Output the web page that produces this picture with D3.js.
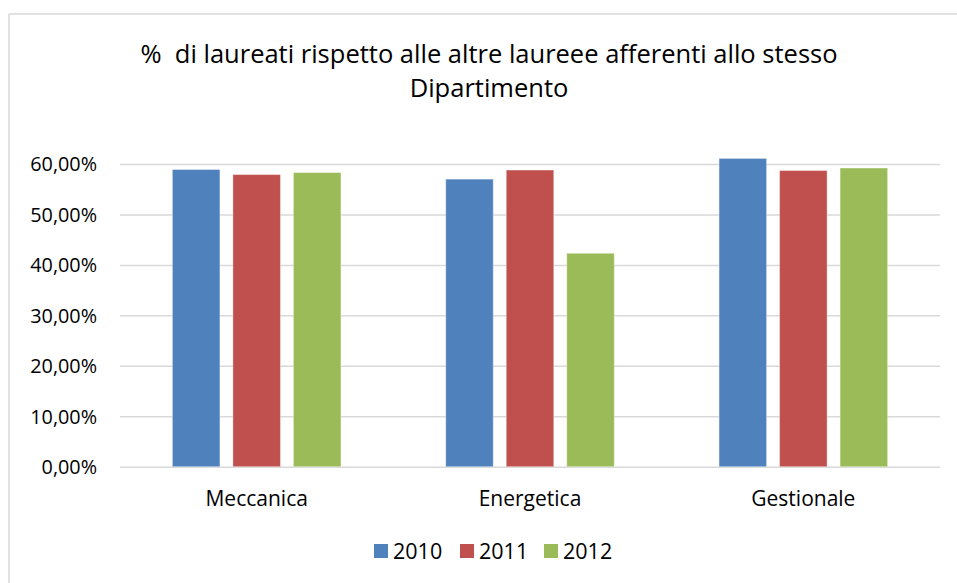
<!DOCTYPE html>
<html>
<head>
<meta charset="utf-8">
<script src="https://cdn.jsdelivr.net/npm/d3@7"></script>
<style>
  body { margin: 0; background: #fff; }
  svg text { font-family: "Open Sans", sans-serif; fill: #000; }
</style>
</head>
<body>
<div id="master"></div>
<script>
let categories = ["Meccanica", "Energetica", "Gestionale"]
let years = ["2010", "2011", "2012"]
let values2010 = [0.589, 0.570, 0.611]
let values2011 = [0.579, 0.588, 0.587]
let values2012 = [0.583, 0.423, 0.592]
let yTicks = [0, 0.1, 0.2, 0.3, 0.4, 0.5, 0.6]
let titleLines = ["%  di laureati rispetto alle altre laureee afferenti allo stesso", "Dipartimento"]
let colors = ["#4f81bd", "#c0504d", "#9bbb59"]

let series = [values2010, values2011, values2012]

let w = 957
let h = 583
let plot = { left: 120, right: 940, top: 164, bottom: 466.7 }

let svg = d3.select("#master").append("svg").attr("width", w).attr("height", h)

// chart frame: only top and left edges visible
svg.append("line").attr("x1", 9).attr("x2", w).attr("y1", 14).attr("y2", 14)
  .attr("stroke", "#d9d9d9").attr("stroke-width", 1.5)
svg.append("line").attr("x1", 9).attr("x2", 9).attr("y1", 14).attr("y2", h)
  .attr("stroke", "#d9d9d9").attr("stroke-width", 1.5)

// title
svg.append("g").selectAll("text")
  .data(titleLines)
  .enter()
  .append("text")
  .attr("x", 489)
  .attr("y", (d, i) => 63 + i * 34)
  .attr("text-anchor", "middle")
  .style("font-size", "25.5px")
  .style("white-space", "pre")
  .attr("xml:space", "preserve")
  .text(d => d)

// scales
let x = d3.scaleBand().domain(categories).range([plot.left, plot.right])
let xInner = d3.scaleBand().domain(years).range([0, x.bandwidth()]).paddingInner(0.215).paddingOuter(0.866)
let y = d3.scaleLinear().domain([0, 0.6]).range([plot.bottom, plot.top])

let locale = d3.formatLocale({ decimal: ",", thousands: ".", grouping: [3], currency: ["€", ""] })
let fmt = locale.format(".2%")

// gridlines + y labels
let yAxis = d3.axisLeft(y).tickValues(yTicks).tickFormat(fmt).tickSize(-(plot.right - plot.left)).tickPadding(23)
let gy = svg.append("g").attr("transform", "translate(" + plot.left + ",0)").call(yAxis)
gy.select(".domain").remove()
gy.selectAll("line").attr("stroke", "#d9d9d9").attr("stroke-width", 1.5)
gy.selectAll("text").style("font-size", "19.8px").attr("dy", "0.35em")

// bars
let groups = svg.append("g").selectAll("g")
  .data(categories)
  .enter()
  .append("g")
  .attr("transform", d => "translate(" + x(d) + ",0)")

groups.selectAll("rect")
  .data((c, ci) => years.map((yr, si) => ({ year: yr, value: series[si][ci], color: colors[si] })))
  .enter()
  .append("rect")
  .attr("x", d => xInner(d.year))
  .attr("y", d => y(d.value))
  .attr("width", xInner.bandwidth())
  .attr("height", d => y(0) - y(d.value))
  .attr("fill", d => d.color)
  .attr("stroke", "#ffffff")
  .attr("stroke-opacity", 0.35)
  .attr("stroke-width", 1)

// x labels
let xAxis = d3.axisBottom(x).tickSize(0).tickPadding(24)
let gx = svg.append("g").attr("transform", "translate(0," + plot.bottom + ")").call(xAxis)
gx.select(".domain").remove()
gx.selectAll("text").style("font-size", "21px")

// legend
let legendX = [374, 460, 544]
let legend = svg.append("g").selectAll("g")
  .data(years)
  .enter()
  .append("g")
  .attr("transform", (d, i) => "translate(" + legendX[i] + ",551)")
legend.append("rect").attr("x", 0).attr("y", -7).attr("width", 14).attr("height", 14)
  .attr("fill", (d, i) => colors[i])
legend.append("text").attr("x", 19).attr("y", 0).attr("dy", "0.35em")
  .style("font-size", "21.5px").text(d => d)
</script>
</body>
</html>
